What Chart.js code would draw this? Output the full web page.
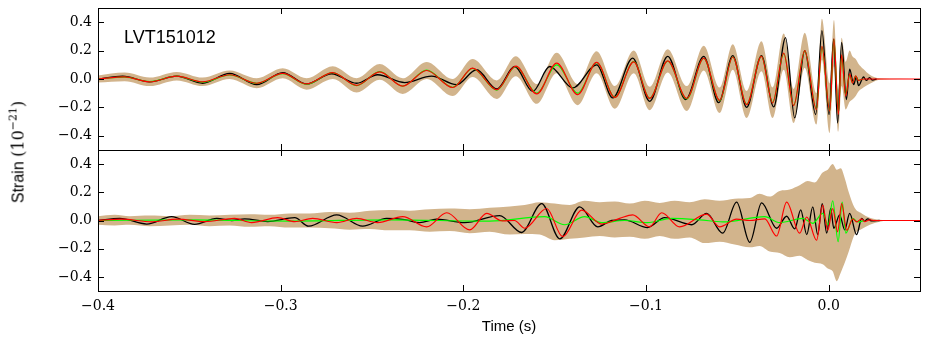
<!DOCTYPE html>
<html>
<head>
<meta charset="utf-8">
<title>LVT151012 strain</title>
<script src="https://cdn.jsdelivr.net/npm/chart.js@4.4.1/dist/chart.umd.min.js"></script>
<style>
  body { margin: 0; background: #fff; }
  #wrap { position: relative; width: 929px; height: 346px; overflow: hidden; }
  canvas { position: absolute; left: 0; }
  #topChart { top: 0; }
  #botChart { top: 140px; }
  #ylabel {
    position: absolute; left: 18px; top: 152px;
    transform: translate(-50%, -50%) rotate(-90deg);
    white-space: nowrap; color: #000;
    font: 16px "Liberation Sans", Arial, sans-serif;
  }
  #ylabel .m { font-family: "DejaVu Serif", serif; }
  #ylabel sup { font-size: 11px; vertical-align: 7px; line-height: 0; }
</style>
</head>
<body>
<div id="wrap">
  <canvas id="topChart" width="929" height="160"></canvas>
  <canvas id="botChart" width="929" height="206"></canvas>
  <div id="ylabel">Strain <span class="m">(10<sup>−21</sup>)</span></div>
</div>
<script>
// axis ticks
const xTickVals = [-0.4, -0.3, -0.2, -0.1, 0.0];
const yTickVals = [-0.4, -0.2, 0.0, 0.2, 0.4];
const eventName = 'LVT151012';

// ---- top panel (times in s, strain in 1e-21) ----
const tTop = [-0.4000, -0.3854, -0.3717, -0.3569, -0.3427, -0.3279, -0.3131, -0.2989, -0.2858, -0.2715,
  -0.2584, -0.2458, -0.2332, -0.2201, -0.2058, -0.1949, -0.1817, -0.1713, -0.1598, -0.1489,
  -0.1374, -0.1270, -0.1171, -0.1067, -0.0980, -0.0881, -0.0777, -0.0684, -0.0597, -0.0525,
  -0.0449, -0.0368, -0.0307, -0.0246, -0.0192, -0.0131, -0.0067, -0.0037, 0.0006, 0.0029,
  0.0053, 0.0071, 0.0093, 0.0115, 0.0130, 0.0148, 0.0162, 0.0190, 0.0225, 0.0279, 0.0500];

const redTop = [0.000, 0.015, -0.020, 0.020, -0.020, 0.030, -0.030, 0.040, -0.035, 0.045,
  -0.045, 0.050, -0.050, 0.060, -0.060, 0.077, -0.075, 0.090, -0.105, 0.112,
  -0.110, 0.117, -0.130, 0.120, -0.137, 0.128, -0.137, 0.147, -0.150, 0.155,
  -0.180, 0.160, -0.168, 0.182, -0.187, 0.200, -0.215, 0.230, -0.227, 0.283,
  -0.250, 0.170, -0.120, 0.037, -0.028, 0.023, -0.010, 0.000, 0.000, 0.000, 0.000];

// green stops where the ringdown ends (same times as tTop)
const greenTop = [0.000, 0.013, -0.018, 0.020, -0.022, 0.028, -0.030, 0.038, -0.037, 0.045,
  -0.047, 0.052, -0.050, 0.062, -0.058, 0.075, -0.078, 0.088, -0.100, 0.100,
  -0.100, 0.115, -0.128, 0.122, -0.135, 0.126, -0.140, 0.145, -0.152, 0.155,
  -0.178, 0.160, -0.165, 0.178, -0.185, 0.198, -0.212, 0.225, -0.225, 0.280,
  -0.245, 0.165, -0.110, 0.030, -0.025, 0.020, -0.008, 0.000];

const bandTopHi = [0.025, 0.045, 0.010, 0.050, 0.010, 0.060, 0.005, 0.075, 0.005, 0.090,
  0.005, 0.105, 0.005, 0.120, 0.000, 0.140, -0.010, 0.160, -0.035, 0.185,
  -0.035, 0.195, -0.050, 0.200, -0.055, 0.210, -0.050, 0.235, -0.060, 0.245,
  -0.085, 0.265, -0.060, 0.320, -0.070, 0.325, -0.100, 0.425, -0.030, 0.415,
  -0.075, 0.290, 0.120, 0.200, 0.160, 0.140, 0.110, 0.070, 0.030, 0.005, 0.000];

const bandTopLo = [-0.025, -0.015, -0.050, -0.010, -0.050, 0.000, -0.065, 0.005, -0.075, 0.000,
  -0.095, -0.005, -0.105, 0.000, -0.120, 0.014, -0.140, 0.020, -0.175, 0.040,
  -0.185, 0.040, -0.210, 0.040, -0.220, 0.045, -0.225, 0.060, -0.240, 0.065,
  -0.275, 0.055, -0.275, 0.065, -0.310, 0.080, -0.320, 0.135, -0.380, 0.090,
  -0.370, -0.050, -0.215, -0.160, -0.145, -0.120, -0.090, -0.060, -0.033, -0.005, 0.000];

const tTopBlack = [-0.4000, -0.3865, -0.3717, -0.3569, -0.3427, -0.3279, -0.3131, -0.2989, -0.2858, -0.2721,
  -0.2584, -0.2469, -0.2321, -0.2174, -0.2037, -0.1928, -0.1817, -0.1719, -0.1620, -0.1527,
  -0.1401, -0.1270, -0.1182, -0.1073, -0.0980, -0.0881, -0.0783, -0.0684, -0.0602, -0.0525,
  -0.0449, -0.0368, -0.0301, -0.0236, -0.0186, -0.0131, -0.0071, -0.0037, 0.0002, 0.0027,
  0.0049, 0.0071, 0.0097, 0.0115, 0.0137, 0.0151, 0.0164, 0.0191, 0.0206, 0.0224,
  0.0240, 0.0262];

const blackTop = [0.000, 0.020, -0.020, 0.020, -0.030, 0.040, -0.040, 0.045, -0.035, 0.037,
  -0.030, 0.030, -0.025, 0.020, -0.040, 0.065, -0.070, 0.088, -0.087, 0.088,
  -0.063, 0.100, -0.133, 0.147, -0.157, 0.160, -0.145, 0.160, -0.167, 0.165,
  -0.200, 0.165, -0.197, 0.292, -0.274, 0.200, -0.250, 0.340, -0.250, 0.280,
  -0.310, 0.257, -0.145, 0.070, -0.040, 0.014, -0.047, 0.014, -0.010, 0.010,
  -0.008, 0.000];

// ---- bottom panel ----
const tBotBlack = [-0.4000, -0.3881, -0.3733, -0.3597, -0.3471, -0.3350, -0.3268, -0.3197, -0.3071, -0.2923,
  -0.2847, -0.2693, -0.2551, -0.2420, -0.2321, -0.2239, -0.2146, -0.1993, -0.1801, -0.1681,
  -0.1571, -0.1472, -0.1363, -0.1264, -0.1188, -0.1117, -0.0991, -0.0898, -0.0750, -0.0668,
  -0.0580, -0.0504, -0.0432, -0.0367, -0.0285, -0.0230, -0.0186, -0.0153, -0.0120, -0.0087,
  -0.0060, -0.0035, -0.0011, 0.0011, 0.0028, 0.0060, 0.0088, 0.0115, 0.0153, 0.0181,
  0.0197, 0.0214, 0.0236, 0.0279];

const blackBot = [0.000, 0.015, -0.025, 0.027, -0.027, 0.015, 0.000, 0.012, -0.008, 0.020,
  -0.040, 0.040, -0.040, 0.015, 0.006, -0.015, 0.010, -0.015, 0.035, -0.085,
  0.120, -0.130, 0.097, -0.045, 0.000, 0.004, -0.050, 0.020, -0.030, 0.050,
  -0.090, 0.130, -0.155, 0.125, -0.055, 0.030, -0.060, 0.075, -0.100, 0.097,
  -0.100, 0.120, -0.090, 0.085, -0.055, 0.040, -0.066, 0.050, -0.100, 0.015,
  -0.005, 0.012, -0.003, 0.000];

const tBotRed = [-0.4000, -0.3870, -0.3706, -0.3564, -0.3416, -0.3252, -0.3159, -0.3016, -0.2923, -0.2825,
  -0.2693, -0.2584, -0.2469, -0.2332, -0.2201, -0.2091, -0.1965, -0.1872, -0.1785, -0.1720,
  -0.1664, -0.1544, -0.1456, -0.1352, -0.1243, -0.1144, -0.1073, -0.0980, -0.0914, -0.0816,
  -0.0668, -0.0597, -0.0504, -0.0432, -0.0350, -0.0285, -0.0230, -0.0159, -0.0120, -0.0066,
  -0.0033, -0.0005, 0.0022, 0.0049, 0.0071, 0.0099, 0.0132, 0.0153, 0.0181, 0.0197,
  0.0225, 0.0252, 0.0500];

const redBot = [0.000, 0.010, -0.010, 0.010, -0.008, 0.015, -0.015, 0.020, -0.008, 0.015,
  -0.015, 0.015, -0.015, 0.027, -0.045, 0.055, -0.067, 0.050, -0.003, 0.000,
  -0.055, 0.085, -0.115, 0.073, -0.025, 0.015, 0.040, -0.045, 0.055, -0.045,
  0.045, -0.045, 0.010, 0.000, 0.012, -0.110, 0.130, -0.090, 0.025, -0.140,
  0.110, -0.070, 0.085, -0.080, 0.120, -0.070, 0.012, -0.010, 0.012, -0.008,
  0.004, 0.000, 0.000];

const tBotGreen = [-0.4000, -0.3498, -0.2951, -0.2403, -0.1856, -0.1555, -0.1445, -0.1336, -0.1243, -0.1117,
  -0.0991, -0.0859, -0.0706, -0.0580, -0.0350, -0.0268, -0.0142, -0.0087, -0.0033, -0.0003,
  0.0022, 0.0052, 0.0074, 0.0094, 0.0132, 0.0159, 0.0197];

const greenBot = [0.000, 0.004, -0.004, 0.005, -0.005, 0.027, -0.030, 0.027, -0.015, 0.000,
  -0.015, 0.015, 0.005, -0.010, 0.027, -0.015, 0.015, -0.020, 0.050, -0.030,
  0.140, -0.150, 0.130, -0.090, 0.015, -0.010, 0.000];

const tBotBand = [-0.4000, -0.3909, -0.3826, -0.3717, -0.3607, -0.3498, -0.3389, -0.3279, -0.3170, -0.3060,
  -0.2951, -0.2841, -0.2732, -0.2622, -0.2513, -0.2403, -0.2294, -0.2184, -0.2075, -0.1965,
  -0.1856, -0.1746, -0.1664, -0.1582, -0.1500, -0.1418, -0.1336, -0.1253, -0.1171, -0.1089,
  -0.1007, -0.0925, -0.0843, -0.0761, -0.0679, -0.0597, -0.0515, -0.0432, -0.0378, -0.0323,
  -0.0268, -0.0213, -0.0159, -0.0115, -0.0076, -0.0033, -0.0005, 0.0022, 0.0044, 0.0066,
  0.0088, 0.0110, 0.0142, 0.0181, 0.0225, 0.0279, 0.0334, 0.0500];

const bandBotHi = [0.030, 0.040, 0.030, 0.035, 0.030, 0.040, 0.035, 0.040, 0.045, 0.040,
  0.050, 0.050, 0.060, 0.055, 0.070, 0.075, 0.070, 0.080, 0.085, 0.080,
  0.090, 0.100, 0.110, 0.130, 0.120, 0.110, 0.140, 0.130, 0.135, 0.120,
  0.140, 0.125, 0.140, 0.130, 0.150, 0.140, 0.155, 0.160, 0.190, 0.170,
  0.210, 0.220, 0.250, 0.280, 0.270, 0.340, 0.360, 0.400, 0.360, 0.370,
  0.300, 0.200, 0.090, 0.050, 0.020, 0.005, 0.000, 0.000];

const bandBotLo = [-0.030, -0.035, -0.030, -0.040, -0.035, -0.030, -0.040, -0.035, -0.045, -0.040,
  -0.050, -0.050, -0.055, -0.065, -0.060, -0.070, -0.070, -0.080, -0.075, -0.090,
  -0.080, -0.100, -0.095, -0.100, -0.140, -0.130, -0.120, -0.110, -0.120, -0.115,
  -0.130, -0.110, -0.130, -0.120, -0.160, -0.150, -0.170, -0.190, -0.180, -0.220,
  -0.230, -0.260, -0.250, -0.280, -0.300, -0.310, -0.340, -0.360, -0.430, -0.370,
  -0.300, -0.220, -0.100, -0.060, -0.030, -0.008, 0.000, 0.000];

const BAND = '#d2b48c';

function fmt(v) {
  const s = Math.abs(v) < 1e-9 ? '0.0' : v.toFixed(1);
  return s.replace('-', '\u2212');
}

// pairs times with values; a shorter value list just ends the curve early
function pts(ts, vs) {
  return vs.map((v, i) => ({ x: ts[i], y: v }));
}

function curve(ts, vs, color, width) {
  return {
    data: pts(ts, vs),
    borderColor: color,
    borderWidth: width,
    pointRadius: 0,
    fill: false,
    cubicInterpolationMode: 'monotone'
  };
}

function band(ts, lo, hi) {
  const common = { pointRadius: 0, borderWidth: 1, borderColor: 'rgba(0,0,0,0)', cubicInterpolationMode: 'monotone' };
  return [
    Object.assign({ data: pts(ts, lo), fill: false }, common),
    Object.assign({ data: pts(ts, hi), fill: '-1', backgroundColor: BAND }, common)
  ];
}

// box around the plot area with inward ticks on all four sides
const frameTicks = {
  id: 'frameTicks',
  afterDatasetsDraw(chart) {
    const { ctx, chartArea: a, scales: { x, y } } = chart;
    ctx.save();
    ctx.strokeStyle = '#000';
    ctx.lineWidth = 1;
    ctx.beginPath();
    xTickVals.forEach(v => {
      const px = Math.round(x.getPixelForValue(v)) + 0.5;
      ctx.moveTo(px, a.top); ctx.lineTo(px, a.top + 6);
      ctx.moveTo(px, a.bottom); ctx.lineTo(px, a.bottom - 6);
    });
    yTickVals.forEach(v => {
      const py = Math.round(y.getPixelForValue(v)) + 0.5;
      ctx.moveTo(a.left, py); ctx.lineTo(a.left + 6, py);
      ctx.moveTo(a.right, py); ctx.lineTo(a.right - 6, py);
    });
    ctx.stroke();
    ctx.strokeRect(Math.round(a.left) + 0.5, Math.round(a.top) + 0.5, Math.round(a.width), Math.round(a.height));
    ctx.restore();
  }
};

const eventLabel = {
  id: 'eventLabel',
  afterDraw(chart) {
    const { ctx, chartArea: a } = chart;
    ctx.save();
    ctx.fillStyle = '#000';
    ctx.font = '18px "Liberation Sans", Arial, sans-serif';
    ctx.textBaseline = 'alphabetic';
    ctx.fillText(eventName, a.left + 26, a.top + 35);
    ctx.restore();
  }
};

function panelOptions(showX) {
  return {
    responsive: false,
    animation: false,
    events: [],
    layout: {
      padding: showX ? { top: 10, right: 9, bottom: 0, left: 0 } : { top: 8, right: 9, bottom: 10, left: 0 }
    },
    plugins: { legend: { display: false }, tooltip: { enabled: false } },
    scales: {
      x: {
        type: 'linear', min: -0.4, max: 0.05, display: showX,
        grid: { display: false, drawTicks: false },
        border: { display: false },
        afterBuildTicks: s => { s.ticks = xTickVals.map(v => ({ value: v })); },
        afterFit: s => {
          if (!s.options.display) return;
          s.height = 55; s.paddingLeft = 0; s.paddingRight = 0;
        },
        ticks: {
          padding: 7, color: '#000', maxRotation: 0, autoSkip: false,
          font: { family: 'DejaVu Serif', size: 14 },
          callback: v => fmt(v)
        },
        title: {
          display: true, text: 'Time (s)', color: '#000',
          font: { family: 'Liberation Sans', size: 15 },
          padding: { top: 0, bottom: 10 }
        }
      },
      y: {
        min: -0.5, max: 0.5,
        grid: { display: false, drawTicks: false },
        border: { display: false },
        afterBuildTicks: s => { s.ticks = yTickVals.map(v => ({ value: v })); },
        afterFit: s => { s.width = 98; s.paddingTop = 0; s.paddingBottom = 0; },
        ticks: {
          padding: 6, color: '#000',
          font: { family: 'DejaVu Serif', size: 14 },
          callback: v => fmt(v)
        }
      }
    }
  };
}

// first dataset is drawn on top
new Chart(document.getElementById('topChart'), {
  type: 'line',
  data: {
    datasets: [
      curve(tTop, redTop, '#ff0000', 1.2),
      curve(tTop, greenTop, '#00ff00', 1.2),
      curve(tTopBlack, blackTop, '#000000', 1.3),
      ...band(tTop, bandTopLo, bandTopHi)
    ]
  },
  options: panelOptions(false),
  plugins: [frameTicks, eventLabel]
});

new Chart(document.getElementById('botChart'), {
  type: 'line',
  data: {
    datasets: [
      curve(tBotRed, redBot, '#ff0000', 1.2),
      curve(tBotGreen, greenBot, '#00ff00', 1.2),
      curve(tBotBlack, blackBot, '#000000', 1.3),
      ...band(tBotBand, bandBotLo, bandBotHi)
    ]
  },
  options: panelOptions(true),
  plugins: [frameTicks]
});
</script>
</body>
</html>
